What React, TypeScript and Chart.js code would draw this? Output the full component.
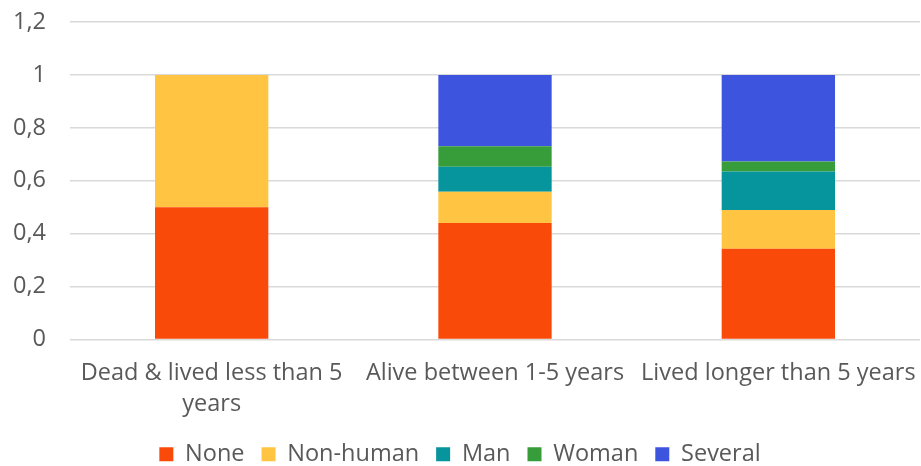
import React, { useEffect, useRef } from "react";
import { Chart, registerables } from "chart.js";

Chart.register(...registerables);

const categories: string[][] = [
  ["Dead & lived less than 5", "years"],
  ["Alive between 1-5 years"],
  ["Lived longer than 5 years"],
];
const noneValues = [0.5, 0.44, 0.343];
const nonHumanValues = [0.5, 0.118, 0.146];
const manValues = [0, 0.095, 0.146];
const womanValues = [0, 0.077, 0.038];
const severalValues = [0, 0.27, 0.327];
const yTicks = { min: 0, max: 1.2, step: 0.2 };

const seriesNames = ["None", "Non-human", "Man", "Woman", "Several"];
const seriesColors = ["#FA4A0A", "#FFC542", "#06949D", "#369D3A", "#3D54DE"];

export default function App() {
  const ref = useRef<HTMLCanvasElement | null>(null);
  useEffect(() => {
    document.body.style.margin = "0";
    const values = [noneValues, nonHumanValues, manValues, womanValues, severalValues];
    const font = "'Open Sans', Roboto, sans-serif";
    const chart = new Chart(ref.current!, {
      type: "bar",
      data: {
        labels: categories as any,
        datasets: values.map((v, i) => ({
          label: seriesNames[i],
          data: v,
          backgroundColor: seriesColors[i],
          borderWidth: 0,
          barPercentage: 0.4,
          categoryPercentage: 1,
        })),
      },
      options: {
        animation: false,
        responsive: false,
        maintainAspectRatio: false,
        layout: { padding: { top: 22, right: 1, left: 0, bottom: -10 } },
        plugins: {
          tooltip: { enabled: false },
          legend: {
            position: "bottom",
            labels: {
              color: "#595959",
              font: { family: font, size: 23.5 },
              boxWidth: 14,
              boxHeight: 14,
              padding: 17,
            },
          },
        },
        scales: {
          x: {
            stacked: true,
            grid: { display: false, drawTicks: false },
            border: { display: false },
            afterFit: (s: any) => {
              s.paddingLeft = 0;
              s.paddingRight = 0;
              s.height = s.height - 12;
            },
            ticks: {
              color: "#595959",
              font: { family: font, size: 23.5, lineHeight: 1.32 },
              padding: 18,
              maxRotation: 0,
              autoSkip: false,
            },
          },
          y: {
            stacked: true,
            min: yTicks.min,
            max: yTicks.max,
            grid: { color: "#d9d9d9", lineWidth: 1.5, drawTicks: false },
            border: { display: false },
            afterFit: (s: any) => {
              s.width = 70;
              s.paddingTop = 0;
              s.paddingBottom = 0;
            },
            ticks: {
              stepSize: yTicks.step,
              color: "#595959",
              font: { family: font, size: 23.5 },
              padding: 24,
              callback: (v: any) => String(Number(Number(v).toFixed(1))).replace(".", ","),
            },
          },
        },
      },
    });
    return () => chart.destroy();
  }, []);
  return <canvas ref={ref} width={921} height={466} style={{ display: "block" }} />;
}
